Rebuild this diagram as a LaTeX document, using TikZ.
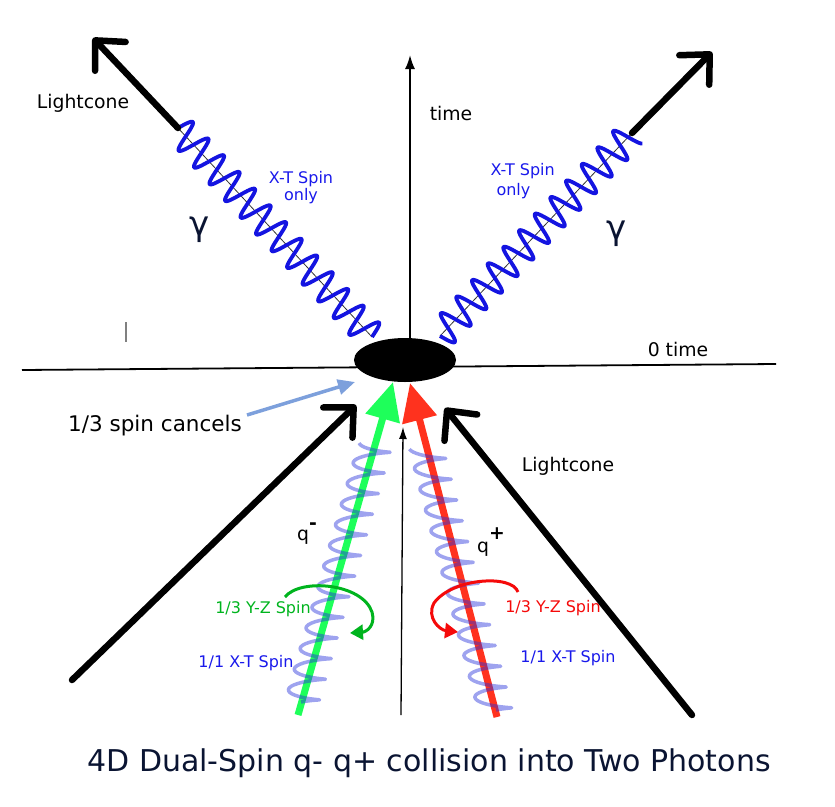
\documentclass[tikz,border=0pt]{standalone}
\usepackage{fontspec}
\setmainfont{DejaVu Sans}
\usetikzlibrary{arrows.meta,shapes.geometric}
\definecolor{photonblue}{RGB}{20,20,225}
\definecolor{spinblue}{RGB}{40,50,220}
\definecolor{labelblue}{RGB}{25,25,235}
\definecolor{qgreen}{RGB}{30,255,90}
\definecolor{qred}{RGB}{255,50,30}
\definecolor{yzgreen}{RGB}{0,180,30}
\definecolor{yzred}{RGB}{245,10,10}
\definecolor{cancelblue}{RGB}{125,160,220}
\definecolor{navy}{RGB}{10,20,50}

\begin{document}
\begin{tikzpicture}[x=1pt,y=-1pt,
  lightcone/.style={line width=6.5pt,line cap=round,-{Straight Barb[length=22pt,width=42pt,round]}},
  axisline/.style={line width=1.8pt},
  photon/.style={draw=photonblue,line width=3.8pt,line join=round},
  spinwave/.style={draw=spinblue,opacity=0.45,line width=3.5pt,line join=round},
  quark/.style={line width=7pt,-{Triangle[length=38pt,width=34pt]}},
  turn/.style={line width=3pt,-{Triangle[length=13pt,width=15pt]}},
  txt/.style={font=\fontsize{18.8}{22}\selectfont},
  small/.style={font=\fontsize{16}{17}\selectfont},
  greek/.style={font=\fontsize{34}{36}\selectfont,text=navy},
]
\useasboundingbox (0,0) rectangle (835,806);

\coordinate (xleft) at (22,370);
\coordinate (xright) at (776,364);
\coordinate (tbase) at (410,360);
\coordinate (ttop) at (410,55);
\draw[axisline] (xleft) -- (xright);
\draw[axisline,-{Latex[length=14pt,width=10pt]}] (tbase) -- (ttop);
\node[ellipse,fill=black,minimum width=102pt,minimum height=44pt,inner sep=0pt] (vertex) at (405,360) {};

\coordinate (phL) at (372,337);
\coordinate (lcL) at (178,128);
\coordinate (tipL) at (93,38);
\coordinate (phR) at (440,336);
\coordinate (lcR) at (632,133);
\coordinate (tipR) at (712,52);
\draw[line width=0.8pt,black!80] (phL) -- (lcL);
\draw[line width=0.8pt,black!80] (phR) -- (lcR);
\draw[photon] plot[domain=0:1,samples=320,smooth] ({372-194*\x+11*sin(4500*\x)},{337-209*\x-10.2*sin(4500*\x)});
\draw[photon] plot[domain=0:1,samples=320,smooth] ({440+192*\x+10.9*sin(4410*\x)},{336-203*\x+10.3*sin(4410*\x)});
\draw[lightcone] (lcL) -- (tipL);
\draw[lightcone] (lcR) -- (tipR);

\coordinate (lcBL) at (72,680);
\coordinate (tipBL) at (356,405);
\coordinate (lcBR) at (692,715);
\coordinate (tipBR) at (445,408);
\draw[lightcone] (lcBL) -- (tipBL);
\draw[lightcone] (lcBR) -- (tipBR);

\coordinate (t2base) at (401,715);
\coordinate (t2tip) at (403,427);
\draw[line width=1.3pt,-{Latex[length=12pt,width=8pt]}] (t2base) -- (t2tip);

\coordinate (qmS) at (298,715);
\coordinate (qmT) at (393,382);
\coordinate (qpS) at (497,717);
\coordinate (qpT) at (410,383);
\draw[quark,qgreen] (qmS) -- (qmT);
\draw[quark,qred] (qpS) -- (qpT);
\draw[spinwave] plot[domain=0:1,samples=320,smooth] ({301+75*\x+17*sin(4590*\x)},{705-263*\x-3*cos(4590*\x)});
\draw[spinwave] plot[domain=0:1,samples=320,smooth] ({496-70*\x+17*sin(4590*\x)},{713-265*\x-3*cos(4590*\x)});

\draw[turn,yzgreen] (285,597) .. controls (300,578) and (362,583) .. (372,612) .. controls (376,626) and (366,632) .. (350,633);
\draw[turn,yzred] (518,592) .. controls (512,574) and (452,578) .. (434,603) .. controls (426,618) and (440,630) .. (458,632);

\node[font=\fontsize{21.5}{24}\selectfont] (cancel) at (155,426) {1/3 spin cancels};
\coordinate (cancelS) at (247,415);
\coordinate (cancelT) at (355,382);
\draw[cancelblue,line width=3.5pt,-{Triangle[length=17pt,width=15pt]}] (cancelS) -- (cancelT);

\draw[gray,line width=1.2pt] (126,322) -- (126,342);

\node[txt] (lcTLlabel) at (83,103) {Lightcone};
\node[txt] (lcBRlabel) at (568,466) {Lightcone};
\node[txt] (timelabel) at (451,113) {time};
\node[txt] (zerotime) at (678,349) {0 time};
\node[greek] (gammaL) at (200,230) {γ};
\node[greek] (gammaR) at (617,234) {γ};
\node[small,labelblue,align=center] (onlyL) at (301,188) {X-T Spin\\only};
\node[labelblue,align=left,anchor=west,font=\fontsize{16}{20}\selectfont] (onlyR) at (487,181) {X-T Spin\\\hspace*{6pt}only};
\node[txt,anchor=base west,inner sep=0pt] (qminus) at (297,540) {q\raisebox{11pt}{\textbf{-}}};
\node[txt,anchor=base west,inner sep=0pt] (qplus) at (477,552) {q\raisebox{13pt}{\textbf{+}}};
\node[small,yzgreen] (yzL) at (263,609) {1/3 Y-Z Spin};
\node[small,labelblue] (xtL) at (246,663) {1/1 X-T Spin};
\node[small,yzred] (yzR) at (553,608) {1/3 Y-Z Spin};
\node[small,labelblue] (xtR) at (568,658) {1/1 X-T Spin};
\node[font=\fontsize{30}{32}\selectfont,text=navy] (title) at (429,763) {4D Dual-Spin q- q+ collision into Two Photons};
\end{tikzpicture}
\end{document}
